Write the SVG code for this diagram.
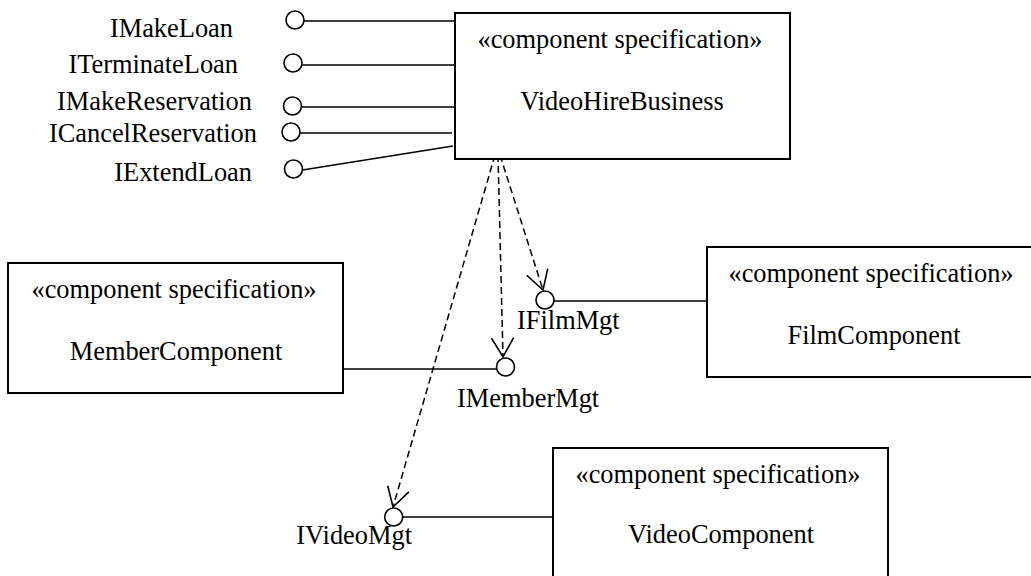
<svg xmlns="http://www.w3.org/2000/svg" width="1031" height="576" viewBox="0 0 1031 576">
<style>
text{font-family:"Liberation Serif","Times New Roman",serif;font-size:26.4px;fill:#000}
.mid{text-anchor:middle}
.end{text-anchor:end}
.box{fill:#fff;stroke:#000;stroke-width:2}
.iface{fill:#fff;stroke:#000;stroke-width:1.6}
.link{fill:none;stroke:#000;stroke-width:1.6}
.dep{fill:none;stroke:#000;stroke-width:1.5;stroke-dasharray:7 4;marker-end:url(#open)}
</style>
<defs>
<marker id="open" viewBox="-22 -13 24 26" refX="0" refY="0" markerWidth="24" markerHeight="26" markerUnits="userSpaceOnUse" orient="auto">
<path d="M-19,-11 L0,0 L-19,11" fill="none" stroke="#000" stroke-width="1.6" stroke-dasharray="none"/>
</marker>
</defs>
<rect width="1031" height="576" fill="#fff"/>
<g id="connectors">
<line class="link" x1="304" y1="21" x2="455" y2="21"/>
<line class="link" x1="302" y1="65" x2="455" y2="65"/>
<line class="link" x1="301.5" y1="107" x2="455" y2="107"/>
<line class="link" x1="300" y1="133" x2="452" y2="133"/>
<line class="link" x1="302.5" y1="170" x2="453" y2="146"/>
<line class="link" x1="554" y1="301" x2="707" y2="301"/>
<line class="link" x1="343" y1="369" x2="496" y2="369"/>
<line class="link" x1="403" y1="517" x2="553" y2="517"/>
<path class="dep" d="M500,155 L543,290"/>
<path class="dep" d="M498,155 L503,357"/>
<path class="dep" d="M495,155 L393,507"/>
</g>
<g id="VideoHireBusiness">
<rect class="box" x="455" y="13" width="335" height="146"/>
<text class="mid" x="620" y="48">«component specification»</text>
<text class="mid" x="622" y="110">VideoHireBusiness</text>
</g>
<g id="MemberComponent">
<rect class="box" x="8" y="263" width="335" height="130"/>
<text class="mid" x="174" y="298">«component specification»</text>
<text class="mid" x="176" y="360">MemberComponent</text>
</g>
<g id="FilmComponent">
<rect class="box" x="707" y="247" width="335" height="130"/>
<text class="mid" x="871" y="282">«component specification»</text>
<text class="mid" x="874" y="344">FilmComponent</text>
</g>
<g id="VideoComponent">
<rect class="box" x="553" y="448" width="335" height="150"/>
<text class="mid" x="718" y="483">«component specification»</text>
<text class="mid" x="721" y="543">VideoComponent</text>
</g>
<g id="IMakeLoan">
<circle class="iface" cx="295" cy="20" r="9"/>
<text class="end" x="233" y="37">IMakeLoan</text>
</g>
<g id="ITerminateLoan">
<circle class="iface" cx="293" cy="63" r="9"/>
<text class="end" x="238" y="73">ITerminateLoan</text>
</g>
<g id="IMakeReservation">
<circle class="iface" cx="292.5" cy="106" r="9"/>
<text class="end" x="252" y="110">IMakeReservation</text>
</g>
<g id="ICancelReservation">
<circle class="iface" cx="291" cy="132" r="9"/>
<text class="end" x="257" y="142">ICancelReservation</text>
</g>
<g id="IExtendLoan">
<circle class="iface" cx="293.5" cy="169" r="9"/>
<text class="end" x="252" y="181">IExtendLoan</text>
</g>
<g id="IFilmMgt">
<circle class="iface" cx="545" cy="300" r="9"/>
<text x="517" y="329">IFilmMgt</text>
</g>
<g id="IMemberMgt">
<circle class="iface" cx="505.5" cy="367" r="9"/>
<text x="457" y="407">IMemberMgt</text>
</g>
<g id="IVideoMgt">
<circle class="iface" cx="393.7" cy="517" r="9"/>
<text class="end" x="412" y="544">IVideoMgt</text>
</g>
</svg>
